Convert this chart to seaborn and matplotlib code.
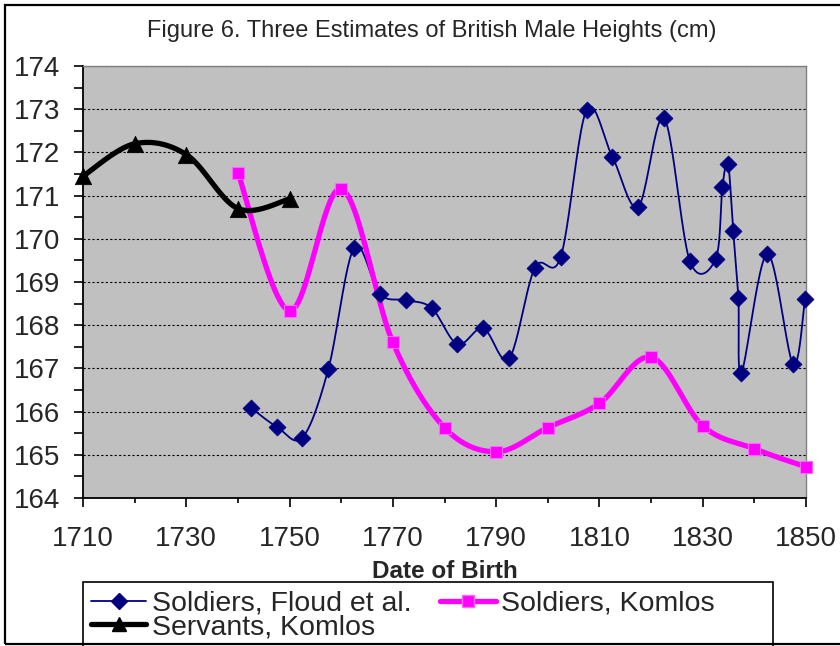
import numpy as np
import pandas as pd
import matplotlib
matplotlib.use("Agg")
import matplotlib.pyplot as plt
import seaborn as sns
from matplotlib.lines import Line2D
from matplotlib.patches import Rectangle
from matplotlib.ticker import MultipleLocator

# Soldiers, Floud et al.
floud_years = [1742.5, 1747.5, 1752.5, 1757.5, 1762.5, 1767.5, 1772.5, 1777.5,
               1782.5, 1787.5, 1792.5, 1797.5, 1802.5, 1807.5, 1812.5, 1817.5,
               1822.5, 1827.5, 1832.5, 1833.8, 1834.9, 1835.9, 1836.9, 1837.5,
               1842.5, 1847.5, 1849.8]
floud_heights = [166.09, 165.65, 165.40, 166.98, 169.79, 168.72, 168.58, 168.40,
                 167.56, 167.93, 167.23, 169.33, 169.58, 172.98, 171.90, 170.74,
                 172.79, 169.49, 169.53, 171.19, 171.74, 170.19, 168.63, 166.90,
                 169.65, 167.10, 168.60]

# Soldiers, Komlos
komlos_years = [1740, 1750, 1760, 1770, 1780, 1790, 1800, 1810, 1820, 1830, 1840, 1850]
komlos_heights = [171.53, 168.33, 171.16, 167.60, 165.63, 165.07, 165.63, 166.19,
                  167.26, 165.67, 165.14, 164.72]

# Servants, Komlos
servant_years = [1710, 1720, 1730, 1740, 1750]
servant_heights = [171.45, 172.20, 171.95, 170.70, 170.92]

x_ticks = list(range(1710, 1851, 20))
y_ticks = list(range(164, 175))


def smooth(xs, ys, n=24):
    # Excel-like smoothed line: Catmull-Rom style bezier through the points
    p = np.column_stack([xs, ys]).astype(float)
    p = np.vstack([p[0], p, p[-1]])
    t = np.linspace(0, 1, n)[:, None]
    out = []
    for i in range(1, len(p) - 2):
        p0, p1, p2, p3 = p[i - 1], p[i], p[i + 1], p[i + 2]
        c1 = p1 + (p2 - p0) / 6
        c2 = p2 - (p3 - p1) / 6
        seg = (1 - t) ** 3 * p1 + 3 * (1 - t) ** 2 * t * c1 + 3 * (1 - t) * t ** 2 * c2 + t ** 3 * p2
        out.append(seg if i == 1 else seg[1:])
    out = np.vstack(out)
    return pd.DataFrame({"year": out[:, 0], "height": out[:, 1]})


sns.set_style("white")
plt.rcParams['font.family'] = ['Liberation Sans', 'DejaVu Sans']

fig = plt.figure(figsize=(8.4, 6.46), dpi=100)
ax = fig.add_axes([83 / 840, 1 - 498 / 646, (806 - 83) / 840, (498 - 66) / 646])
ax.set_facecolor('#C0C0C0')

navy = '#000080'
magenta = '#FF00FF'

# lines
sns.lineplot(data=smooth(floud_years, floud_heights), x="year", y="height", sort=False,
             estimator=None, color=navy, lw=1.3, ax=ax, zorder=3)
sns.lineplot(data=smooth(komlos_years, komlos_heights), x="year", y="height", sort=False,
             estimator=None, color=magenta, lw=3.8, ax=ax, zorder=3)
sns.lineplot(data=smooth(servant_years, servant_heights), x="year", y="height", sort=False,
             estimator=None, color='black', lw=3.8, ax=ax, zorder=4)

# markers
sns.scatterplot(x=floud_years, y=floud_heights, marker='D', s=75, color=navy,
                edgecolor=navy, linewidth=0.5, ax=ax, zorder=5, clip_on=False)
sns.scatterplot(x=komlos_years, y=komlos_heights, marker='s', s=70, color=magenta,
                edgecolor='#FF66FF', linewidth=0.8, ax=ax, zorder=5, clip_on=False)
sns.scatterplot(x=servant_years, y=servant_heights, marker='^', s=140, color='black',
                edgecolor='black', linewidth=0.5, ax=ax, zorder=6, clip_on=False)

ax.set_xlim(1710, 1850)
ax.set_ylim(164, 174)
ax.set_xticks(x_ticks)
ax.set_yticks(y_ticks)
ax.xaxis.set_minor_locator(MultipleLocator(10))
ax.yaxis.set_minor_locator(MultipleLocator(0.5))
ax.set_xlabel("")
ax.set_ylabel("")

ax.yaxis.grid(True, which='major', color='black', linestyle=(0, (2, 2)), lw=0.8)
ax.set_axisbelow(True)

for side in ['left', 'bottom']:
    ax.spines[side].set_color('black')
    ax.spines[side].set_linewidth(1.3)
for side in ['top', 'right']:
    ax.spines[side].set_color('#808080')
    ax.spines[side].set_linewidth(1.0)

ax.tick_params(axis='both', which='both', direction='out', color='black', width=1.2,
               labelsize=20, left=True, bottom=True)
ax.tick_params(axis='y', which='both', length=6.5, pad=10)
ax.tick_params(axis='x', which='major', length=6.5, pad=14)
ax.tick_params(axis='x', which='minor', length=3.5)

fig.text(432 / 840, 1 - 31 / 646, "Figure 6. Three Estimates of British Male Heights (cm)",
         ha='center', va='center', fontsize=17)
fig.text(445 / 840, 1 - 572 / 646, "Date of Birth", ha='center', va='center',
         fontsize=17.5, fontweight='bold')

# legend
h_floud = Line2D([], [], color=navy, lw=1.3, marker='D', ms=8.5, mec=navy)
h_komlos = Line2D([], [], color=magenta, lw=3.8, marker='s', ms=8, mec='#FF66FF')
h_servant = Line2D([], [], color='black', lw=3.8, marker='^', ms=10.5)
fig.legend([h_floud, h_servant, h_komlos],
           ["Soldiers, Floud et al.", "Servants, Komlos", "Soldiers, Komlos"],
           loc='upper left', bbox_to_anchor=(88 / 840, 1 - 588 / 646),
           ncol=2, frameon=False, fontsize=20.5, handlelength=1.95, handletextpad=0.2,
           columnspacing=1.0, labelspacing=-0.1, borderpad=0.1, borderaxespad=0)
fig.patches.append(Rectangle((83 / 840, -0.01), (773 - 83) / 840, 0.01 + (646 - 582) / 646,
                             transform=fig.transFigure, fill=False, edgecolor='black',
                             lw=1.2, zorder=10))
# chart border
fig.patches.append(Rectangle((5 / 840, 1 - 644 / 646), 1.0, (644 - 5) / 646,
                             transform=fig.transFigure, fill=False, edgecolor='black',
                             lw=1.6, zorder=10))

fig.savefig("out.png", dpi=100)
